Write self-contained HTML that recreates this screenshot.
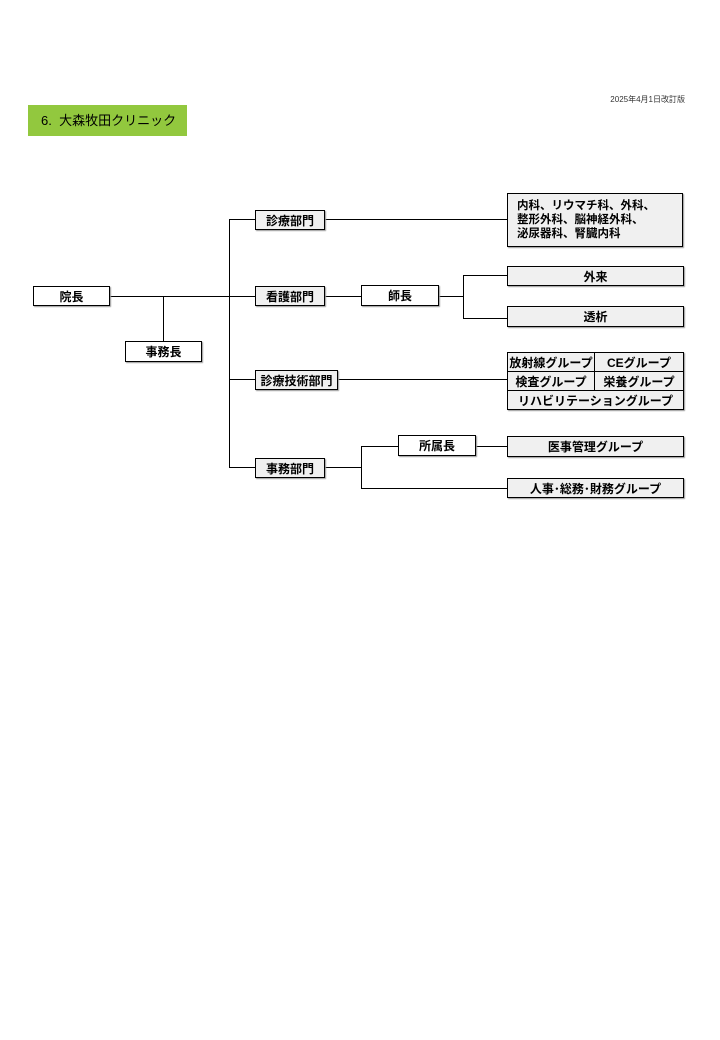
<!DOCTYPE html>
<html><head><meta charset="utf-8"><style>
body{margin:0;width:720px;height:1040px;background:#fff;position:relative;font-family:"Liberation Sans","Noto Sans CJK JP",sans-serif;overflow:hidden}
.b{position:absolute;box-sizing:border-box;border:1px solid #000;background:#fff;font-size:12px;font-weight:bold;text-align:center;display:flex;align-items:center;justify-content:center;color:#000;box-shadow:1px 1px 1px #999}
.g{background:#f0f0f0}
.h{position:absolute;background:#000;height:1px}
.v{position:absolute;background:#000;width:1px}
.c{position:absolute;box-sizing:border-box;border:1px solid #000;background:#f0f0f0;font-size:12px;font-weight:bold;display:flex;align-items:center;justify-content:center}
</style></head><body>
<div style="position:absolute;right:35px;top:94px;font-size:8px;color:#333">2025年4月1日改訂版</div>
<div style="position:absolute;left:28px;top:105px;width:159px;height:31px;background:#92c83e;font-size:13px;line-height:31px;padding-left:13px;box-sizing:border-box;white-space:nowrap">6.&nbsp;&nbsp;大森牧田クリニック</div>

<div class="h" style="left:109px;top:296px;width:146px"></div>
<div class="v" style="left:163px;top:296px;height:45px"></div>
<div class="v" style="left:229px;top:219px;height:248px"></div>
<div class="h" style="left:229px;top:219px;width:26px"></div>
<div class="h" style="left:229px;top:379px;width:26px"></div>
<div class="h" style="left:229px;top:467px;width:26px"></div>
<div class="h" style="left:324px;top:219px;width:183px"></div>
<div class="h" style="left:324px;top:296px;width:37px"></div>
<div class="h" style="left:438px;top:296px;width:25px"></div>
<div class="v" style="left:463px;top:275px;height:43px"></div>
<div class="h" style="left:463px;top:275px;width:44px"></div>
<div class="h" style="left:463px;top:318px;width:44px"></div>
<div class="h" style="left:337px;top:379px;width:170px"></div>
<div class="h" style="left:324px;top:467px;width:37px"></div>
<div class="v" style="left:361px;top:446px;height:42px"></div>
<div class="h" style="left:361px;top:446px;width:37px"></div>
<div class="h" style="left:475px;top:446px;width:32px"></div>
<div class="h" style="left:361px;top:488px;width:146px"></div>

<div class="b" style="left:33px;top:286px;width:77px;height:20px">院長</div>
<div class="b" style="left:125px;top:341px;width:77px;height:21px">事務長</div>
<div class="b g" style="left:255px;top:210px;width:70px;height:20px">診療部門</div>
<div class="b g" style="left:255px;top:286px;width:70px;height:20px">看護部門</div>
<div class="b g" style="left:255px;top:370px;width:83px;height:20px">診療技術部門</div>
<div class="b g" style="left:255px;top:458px;width:70px;height:20px">事務部門</div>
<div class="b g" style="left:507px;top:193px;width:176px;height:54px;justify-content:flex-start;text-align:left;padding-left:9px;line-height:14px;font-size:11.5px">内科、リウマチ科、外科、<br>整形外科、脳神経外科、<br>泌尿器科、腎臓内科</div>
<div class="b" style="left:361px;top:285px;width:78px;height:21px">師長</div>
<div class="b g" style="left:507px;top:266px;width:177px;height:20px">外来</div>
<div class="b g" style="left:507px;top:306px;width:177px;height:21px">透析</div>
<div style="position:absolute;left:507px;top:352px;width:177px;height:58px;box-shadow:1px 1px 1px #999">
<div class="c" style="left:0;top:0;width:88px;height:20px">放射線グループ</div>
<div class="c" style="left:87px;top:0;width:90px;height:20px">CEグループ</div>
<div class="c" style="left:0;top:19px;width:88px;height:20px">検査グループ</div>
<div class="c" style="left:87px;top:19px;width:90px;height:20px">栄養グループ</div>
<div class="c" style="left:0;top:38px;width:177px;height:20px">リハビリテーショングループ</div>
</div>
<div class="b" style="left:398px;top:435px;width:78px;height:21px">所属長</div>
<div class="b g" style="left:507px;top:436px;width:177px;height:21px">医事管理グループ</div>
<div class="b g" style="left:507px;top:478px;width:177px;height:20px">人事･総務･財務グループ</div>
</body></html>
